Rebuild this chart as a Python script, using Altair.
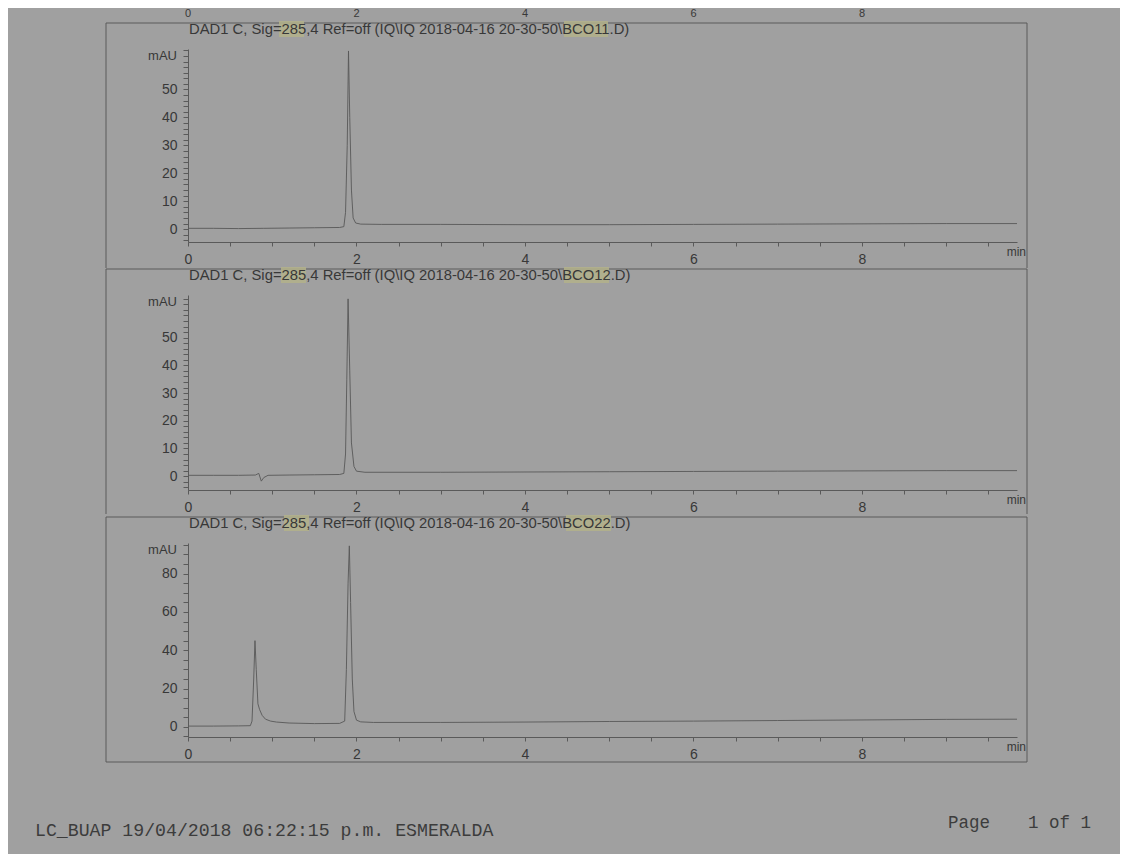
import altair as alt
import pandas as pd

BG = "#a0a0a0"
TXT = "#383838"
AX = "#5a5a5a"
TRACE = "#585858"
HIL = "#b3b18a"
SANS = "Liberation Sans"
MONO = "Liberation Mono"

# ---- data ----
titles = [
    "DAD1 C, Sig=285,4 Ref=off (IQ\\IQ 2018-04-16 20-30-50\\BCO11.D)",
    "DAD1 C, Sig=285,4 Ref=off (IQ\\IQ 2018-04-16 20-30-50\\BCO12.D)",
    "DAD1 C, Sig=285,4 Ref=off (IQ\\IQ 2018-04-16 20-30-50\\BCO22.D)",
]

t1 = [0.00, 0.30, 0.60, 0.90, 1.20, 1.50, 1.80, 1.85, 1.87, 1.89, 1.905, 1.92, 1.94, 1.96, 1.99,
      2.05, 2.30, 3.00, 4.00, 5.00, 6.00, 7.00, 8.00, 9.00, 9.84]
v1 = [0.3, 0.3, 0.2, 0.3, 0.4, 0.5, 0.6, 0.9, 6.0, 30.0, 63.8, 40.0, 14.0, 4.0, 2.2,
      1.8, 1.7, 1.7, 1.6, 1.6, 1.7, 1.8, 1.9, 2.0, 2.0]

t2 = [0.00, 0.30, 0.60, 0.80, 0.84, 0.87, 0.90, 0.95, 1.20, 1.50, 1.80, 1.85, 1.87, 1.885, 1.90,
      1.92, 1.94, 1.97, 2.00, 2.10, 3.00, 4.00, 5.00, 6.00, 7.00, 8.00, 9.00, 9.84]
v2 = [0.3, 0.3, 0.3, 0.4, 1.0, -1.8, -0.5, 0.3, 0.4, 0.5, 0.6, 1.0, 8.0, 35.0, 64.0,
      38.0, 12.0, 3.5, 1.8, 1.4, 1.4, 1.5, 1.6, 1.7, 1.8, 1.9, 2.0, 2.0]

t3 = [0.00, 0.30, 0.60, 0.74, 0.76, 0.78, 0.795, 0.81, 0.83, 0.85, 0.88, 0.92, 0.98, 1.05, 1.20,
      1.50, 1.80, 1.86, 1.88, 1.90, 1.915, 1.93, 1.95, 1.97, 2.00, 2.05, 2.20, 3.00, 4.00, 5.00,
      6.00, 7.00, 8.00, 9.00, 9.84]
v3 = [0.4, 0.4, 0.5, 0.6, 3.0, 25.0, 45.0, 30.0, 12.0, 9.0, 6.0, 4.0, 3.0, 2.5, 2.0,
      1.7, 1.8, 3.0, 30.0, 75.0, 94.5, 65.0, 25.0, 8.0, 3.5, 2.6, 2.3, 2.3, 2.5, 2.8,
      3.0, 3.3, 3.6, 3.9, 4.0]

times = [t1, t2, t3]
values = [v1, v2, v3]

x_domain = [0, 9.84]
x_tick_values = [0, 0.5, 1, 1.5, 2, 2.5, 3, 3.5, 4, 4.5, 5, 5.5, 6, 6.5, 7, 7.5, 8, 8.5, 9, 9.5]
top_remnant_labels = [0, 2, 4, 6, 8]

y_domains = [[-4.6, 64.5], [-5.0, 65.4], [-5.3, 96.0]]
y_tick_values = [
    [-4, -2, 0, 2, 4, 6, 8, 10, 12, 14, 16, 18, 20, 22, 24, 26, 28, 30, 32, 34, 36, 38, 40,
     42, 44, 46, 48, 50, 52, 54, 56, 58, 60, 62, 64],
    [-4, -2, 0, 2, 4, 6, 8, 10, 12, 14, 16, 18, 20, 22, 24, 26, 28, 30, 32, 34, 36, 38, 40,
     42, 44, 46, 48, 50, 52, 54, 56, 58, 60, 62, 64],
    [-5, 0, 5, 10, 15, 20, 25, 30, 35, 40, 45, 50, 55, 60, 65, 70, 75, 80, 85, 90, 95],
]
y_label_step = [10, 10, 20]
y_label_max = [50, 50, 80]
heights = [193, 195, 194]

# decorative positions (pixels relative to each plot area)
hl_boxes = [[(91, 116), (376, 420)], [(93, 118), (376, 421)], [(96, 121), (378, 423)]]
footer_left = "LC_BUAP 19/04/2018 06:22:15 p.m. ESMERALDA"
footer_page = "Page"
footer_num = "1 of 1"

one = pd.DataFrame({"k": [0]})
W = 829


def text_layer(txt, x, y, size=13, align="left", font=SANS, color=TXT, baseline="middle"):
    return alt.Chart(one).mark_text(
        align=align, baseline=baseline, font=font, fontSize=size, color=color
    ).encode(x=alt.value(x), y=alt.value(y), text=alt.value(txt))


def rule_layer(**enc):
    return alt.Chart(one).mark_rule(color=AX, strokeWidth=1).encode(**enc)


def panel(i):
    h = heights[i]
    xenc = alt.X(
        "t:Q",
        scale=alt.Scale(domain=x_domain, nice=False, zero=False),
        axis=alt.Axis(
            values=x_tick_values,
            labelExpr="datum.value % 2 === 0 ? format(datum.value, 'd') : ''",
            title=None, grid=False, tickSize=4, labelPadding=6,
            labelFlush=False, labelOverlap=False, labelBound=False,
            domainColor=AX, tickColor=AX, labelColor=TXT,
            labelFont=SANS, labelFontSize=14, zindex=1,
        ),
    )
    step = y_label_step[i]
    ymax = y_label_max[i]
    yenc = alt.Y(
        "v:Q",
        scale=alt.Scale(domain=y_domains[i], nice=False, zero=False),
        axis=alt.Axis(
            values=y_tick_values[i],
            labelExpr=(f"datum.value % {step} === 0 && datum.value >= 0 && datum.value <= {ymax}"
                       " ? format(datum.value, 'd') : ''"),
            title=None, grid=False, tickSize=5, labelPadding=6,
            labelOverlap=False, labelBound=False, labelFlush=False,
            domainColor=AX, tickColor=AX, labelColor=TXT,
            labelFont=SANS, labelFontSize=14, zindex=1,
        ),
    )
    layers = []
    if i == 0:
        layers.append(
            alt.Chart(one).mark_rect(color=BG).encode(
                x=alt.value(-180), x2=alt.value(932), y=alt.value(-40), y2=alt.value(805)
            )
        )
    # panel frame
    layers.append(rule_layer(x=alt.value(-82), x2=alt.value(839), y=alt.value(-26)))
    layers.append(rule_layer(x=alt.value(-82), y=alt.value(-26), y2=alt.value(219)))
    layers.append(rule_layer(x=alt.value(839), y=alt.value(-26), y2=alt.value(219)))
    if i == 2:
        layers.append(rule_layer(x=alt.value(-82), x2=alt.value(839), y=alt.value(219)))
    # highlighter marks on title
    for (a, b) in hl_boxes[i]:
        layers.append(
            alt.Chart(one).mark_rect(color=HIL, opacity=0.85).encode(
                x=alt.value(a), x2=alt.value(b), y=alt.value(-28), y2=alt.value(-12)
            )
        )
    layers.append(text_layer(titles[i], 1, -19, size=14.8))
    layers.append(text_layer("mAU", -11, 7, size=13, align="right"))
    layers.append(text_layer("min", 838, h + 10, size=12, align="right"))
    df = pd.DataFrame({"t": times[i], "v": values[i]})
    layers.append(
        alt.Chart(df).mark_line(color=TRACE, strokeWidth=0.9).encode(x=xenc, y=yenc)
    )
    if i == 0:
        rem = pd.DataFrame({"t": top_remnant_labels})
        layers.append(
            alt.Chart(rem).mark_text(
                baseline="middle", font=SANS, fontSize=11, color=TXT
            ).encode(x=xenc, y=alt.value(-35), text=alt.Text("t:Q", format="d"))
        )
    if i == 2:
        layers.append(text_layer(footer_left, -153, 288, size=18.2, font=MONO, color="#3c3c3c"))
        layers.append(text_layer(footer_page, 760, 280, size=17.5, font=MONO, color="#3c3c3c"))
        layers.append(text_layer(footer_num, 840, 280, size=17.5, font=MONO, color="#3c3c3c"))
    return alt.layer(*layers).properties(width=W, height=h)


chart = alt.vconcat(
    panel(0), panel(1), panel(2), spacing=53, bounds="flush"
).properties(padding=0, background=BG).configure_view(strokeWidth=0)

chart.save("out.html", embed_options={"renderer": "svg", "actions": False})
